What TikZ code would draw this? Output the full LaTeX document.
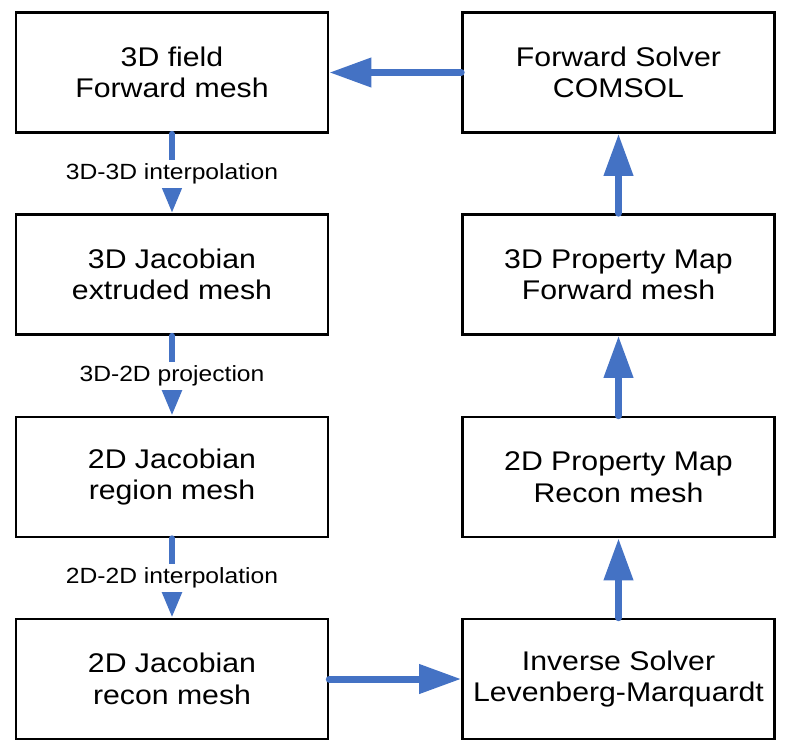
\documentclass[tikz,border=0pt]{standalone}
\usepackage{fontspec}
\setmainfont{Liberation Sans}[FakeStretch=1.12]
\usetikzlibrary{arrows.meta}
\definecolor{arrblue}{RGB}{68,114,196}
\tikzset{
  box/.style={draw=black, line width=2.6pt, minimum width=312pt, minimum height=120pt,
    align=center, font=\fontsize{27pt}{31.5pt}\selectfont, inner sep=0pt},
  bigarrow/.style={draw=arrblue, line width=7pt, line cap=round,
    -{Triangle[length=42pt,width=28pt]}},
  smallarrow/.style={draw=arrblue, line width=6pt, line cap=round,
    -{Triangle[length=26pt,width=19pt]}},
  lbl/.style={fill=white, font=\fontsize{22pt}{26pt}\selectfont, text height=16pt,
    text depth=5pt, inner xsep=2pt, inner ysep=3.5pt}
}
\begin{document}
\begin{tikzpicture}[x=1pt,y=-1pt]
\useasboundingbox (0,0) rectangle (800,750);
% left column
\node[box] (L1) at (172,72.5) {3D field\\Forward mesh};
\node[box] (L2) at (172,274.5) {3D Jacobian\\extruded mesh};
\node[box] (L3) at (172,477) {2D Jacobian\\region mesh};
\node[box] (L4) at (172,679) {2D Jacobian\\recon mesh};
% right column
\node[box] (R1) at (618.5,72.5) {Forward Solver\\COMSOL};
\node[box] (R2) at (618.5,274.5) {3D Property Map\\Forward mesh};
\node[box] (R3) at (618.5,477) {2D Property Map\\Recon mesh};
\node[box] (R4) at (618.5,679) {Inverse Solver\\Levenberg-Marquardt};
% left vertical arrows with labels
\draw[smallarrow] (L1.south) -- node[lbl] (t1) {3D-3D interpolation} (L2.north);
\draw[smallarrow] (L2.south) -- node[lbl] (t2) {3D-2D projection} (L3.north);
\draw[smallarrow] (L3.south) -- node[lbl] (t3) {2D-2D interpolation} (L4.north);
% bottom and right arrows
\draw[bigarrow] (L4.east) -- (R4.west);
\draw[bigarrow] (R4.north) -- (R3.south);
\draw[bigarrow] (R3.north) -- (R2.south);
\draw[bigarrow] (R2.north) -- (R1.south);
\draw[bigarrow] (R1.west) -- (L1.east);
\end{tikzpicture}
\end{document}
